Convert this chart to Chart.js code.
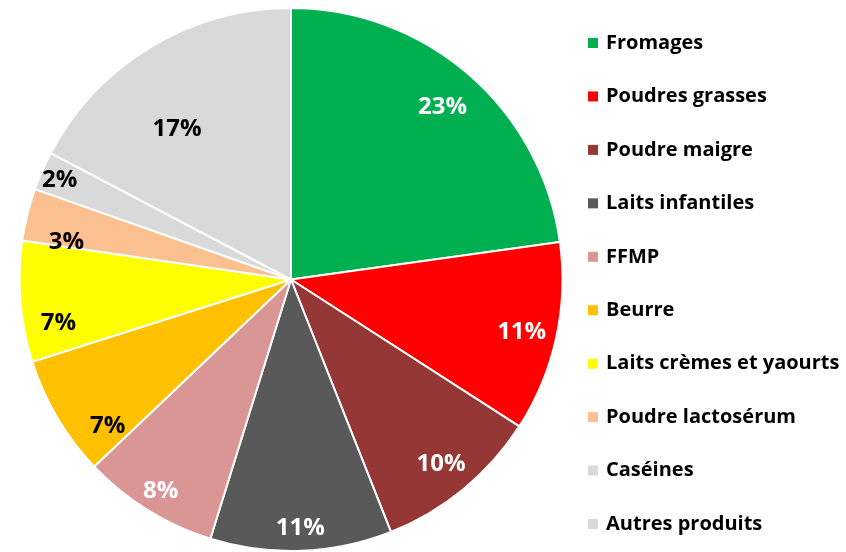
<!DOCTYPE html>
<html>
<head>
<meta charset="utf-8">
<script src="https://cdn.jsdelivr.net/npm/chart.js@4"></script>
<style>
  html, body { margin: 0; padding: 0; background: #fff; }
  #wrap { width: 846px; height: 552px; }
</style>
</head>
<body>
<div id="wrap"><canvas id="chart" width="846" height="552"></canvas></div>
<script>
const categories = ['Fromages', 'Poudres grasses', 'Poudre maigre', 'Laits infantiles', 'FFMP',
    'Beurre', 'Laits crèmes et yaourts', 'Poudre lactosérum', 'Caséines', 'Autres produits'];
const shares = [22.8, 11.3, 9.9, 10.8, 8.1, 7.2, 7.2, 3.1, 2.3, 17.3];
const percentLabels = ['23%', '11%', '10%', '11%', '8%', '7%', '7%', '3%', '2%', '17%'];

const colors = ['#00B050', '#FF0000', '#953735', '#595959', '#D99694',
    '#FFC000', '#FFFF00', '#FAC090', '#D9D9D9', '#D9D9D9'];
const labelColors = ['#fff', '#fff', '#fff', '#fff', '#fff', '#000', '#000', '#000', '#000', '#000'];
// where each label sits: fraction of radius, and angle shift (deg) from slice middle
const labelRadius = [0.85, 0.87, 0.87, 0.91, 0.91, 0.86, 0.87, 0.84, 0.93, 0.70];
const labelShift = [0, 0, 0, 0, 0, -7.7, -5.5, -3.8, 0, -5.7];

const FONT = '"Open Sans", sans-serif';

const sliceLabels = {
    id: 'sliceLabels',
    afterDatasetsDraw(chart) {
        const ctx = chart.ctx;
        const meta = chart.getDatasetMeta(0);
        ctx.save();
        ctx.font = 'bold 24px ' + FONT;
        ctx.textAlign = 'center';
        ctx.textBaseline = 'middle';
        meta.data.forEach((arc, i) => {
            const p = arc.getProps(['x', 'y', 'startAngle', 'endAngle', 'outerRadius'], true);
            const a = (p.startAngle + p.endAngle) / 2 + labelShift[i] * Math.PI / 180;
            const r = p.outerRadius * labelRadius[i];
            ctx.fillStyle = labelColors[i];
            ctx.fillText(percentLabels[i], p.x + Math.cos(a) * r, p.y + Math.sin(a) * r + 2);
        });
        ctx.restore();
    }
};

const sideLegend = {
    id: 'sideLegend',
    afterDraw(chart) {
        const ctx = chart.ctx;
        ctx.save();
        ctx.font = 'bold 20px ' + FONT;
        ctx.textAlign = 'left';
        ctx.textBaseline = 'middle';
        categories.forEach((name, i) => {
            const y = 43 + i * 53.45;
            ctx.fillStyle = colors[i];
            ctx.fillRect(588, y - 5, 10, 10);
            ctx.fillStyle = '#000';
            ctx.fillText(name, 606, y);
        });
        ctx.restore();
    }
};

new Chart(document.getElementById('chart'), {
    type: 'pie',
    data: {
        labels: categories,
        datasets: [{
            data: shares,
            backgroundColor: colors,
            borderColor: '#fff',
            borderWidth: 2
        }]
    },
    options: {
        responsive: false,
        animation: false,
        layout: { padding: { top: 7, bottom: 0, left: 0, right: 264 } },
        plugins: {
            legend: { display: false },
            tooltip: { enabled: false }
        }
    },
    plugins: [sliceLabels, sideLegend]
});
</script>
</body>
</html>
